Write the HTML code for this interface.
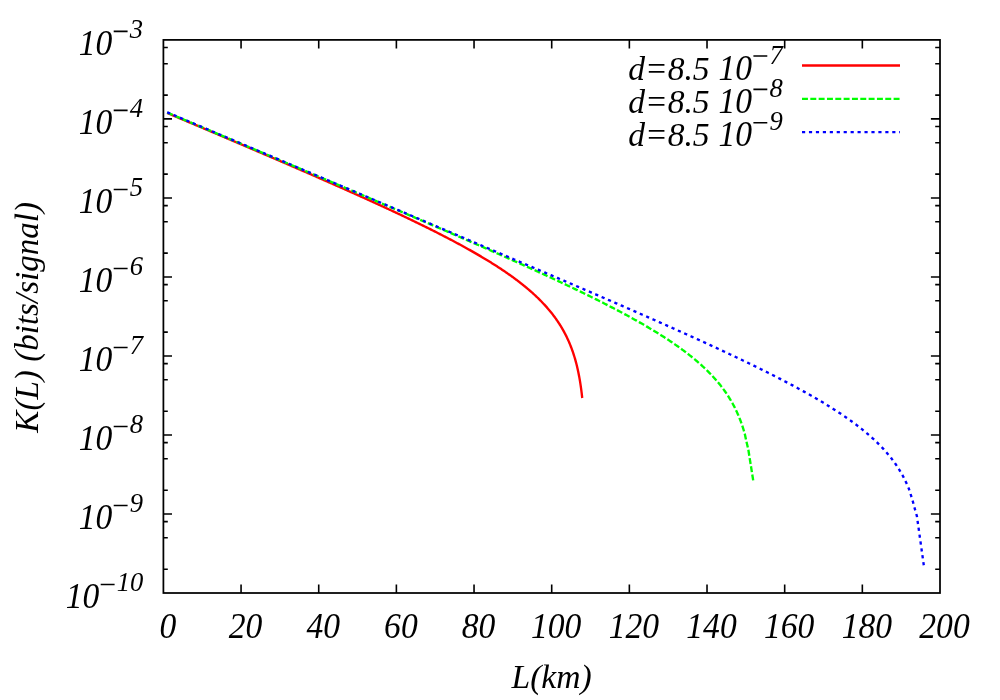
<!DOCTYPE html>
<html><head><meta charset="utf-8"><title>K(L)</title>
<style>
html,body{margin:0;padding:0;background:#fff;}
body{width:1000px;height:700px;overflow:hidden;}
svg{display:block;will-change:transform;}
text{font-family:"Liberation Serif",serif;font-style:italic;fill:#000;}
</style></head><body>
<svg width="1000" height="700" viewBox="0 0 1000 700">
<rect x="0" y="0" width="1000" height="700" fill="#fff"/>
<path d="M241.06 593.00 v-8.60 M241.06 39.90 v8.60 M318.72 593.00 v-8.60 M318.72 39.90 v8.60 M396.38 593.00 v-8.60 M396.38 39.90 v8.60 M474.04 593.00 v-8.60 M474.04 39.90 v8.60 M551.70 593.00 v-8.60 M551.70 39.90 v8.60 M629.36 593.00 v-8.60 M629.36 39.90 v8.60 M707.02 593.00 v-8.60 M707.02 39.90 v8.60 M784.68 593.00 v-8.60 M784.68 39.90 v8.60 M862.34 593.00 v-8.60 M862.34 39.90 v8.60 M163.40 47.56 h4.40 M940.00 47.56 h-4.80 M163.40 63.69 h4.40 M940.00 63.69 h-4.80 M163.40 95.13 h4.40 M940.00 95.13 h-4.80 M163.40 118.91 h8.60 M940.00 118.91 h-9.10 M163.40 126.57 h4.40 M940.00 126.57 h-4.80 M163.40 142.70 h4.40 M940.00 142.70 h-4.80 M163.40 174.14 h4.40 M940.00 174.14 h-4.80 M163.40 197.93 h8.60 M940.00 197.93 h-9.10 M163.40 205.59 h4.40 M940.00 205.59 h-4.80 M163.40 221.71 h4.40 M940.00 221.71 h-4.80 M163.40 253.16 h4.40 M940.00 253.16 h-4.80 M163.40 276.94 h8.60 M940.00 276.94 h-9.10 M163.40 284.60 h4.40 M940.00 284.60 h-4.80 M163.40 300.73 h4.40 M940.00 300.73 h-4.80 M163.40 332.17 h4.40 M940.00 332.17 h-4.80 M163.40 355.96 h8.60 M940.00 355.96 h-9.10 M163.40 363.61 h4.40 M940.00 363.61 h-4.80 M163.40 379.74 h4.40 M940.00 379.74 h-4.80 M163.40 411.19 h4.40 M940.00 411.19 h-4.80 M163.40 434.97 h8.60 M940.00 434.97 h-9.10 M163.40 442.63 h4.40 M940.00 442.63 h-4.80 M163.40 458.76 h4.40 M940.00 458.76 h-4.80 M163.40 490.20 h4.40 M940.00 490.20 h-4.80 M163.40 513.99 h8.60 M940.00 513.99 h-9.10 M163.40 521.64 h4.40 M940.00 521.64 h-4.80 M163.40 537.77 h4.40 M940.00 537.77 h-4.80 M163.40 569.21 h4.40 M940.00 569.21 h-4.80" stroke="#000" stroke-width="1.60" fill="none"/>
<rect x="163.40" y="39.90" width="776.60" height="553.10" fill="none" stroke="#000" stroke-width="1.75"/>
<text transform="translate(78.80 54.90) scale(1 1.050)" font-size="33.6">10</text><text transform="translate(129.80 38.00) scale(1 1.030)" font-size="26.6">3</text>
<text transform="translate(78.80 133.91) scale(1 1.050)" font-size="33.6">10</text><text transform="translate(129.80 117.01) scale(1 1.030)" font-size="26.6">4</text>
<text transform="translate(78.80 212.93) scale(1 1.050)" font-size="33.6">10</text><text transform="translate(129.80 196.03) scale(1 1.030)" font-size="26.6">5</text>
<text transform="translate(78.80 291.94) scale(1 1.050)" font-size="33.6">10</text><text transform="translate(129.80 275.04) scale(1 1.030)" font-size="26.6">6</text>
<text transform="translate(78.80 370.96) scale(1 1.050)" font-size="33.6">10</text><text transform="translate(129.80 354.06) scale(1 1.030)" font-size="26.6">7</text>
<text transform="translate(78.80 449.97) scale(1 1.050)" font-size="33.6">10</text><text transform="translate(129.80 433.07) scale(1 1.030)" font-size="26.6">8</text>
<text transform="translate(78.80 528.99) scale(1 1.050)" font-size="33.6">10</text><text transform="translate(129.80 512.09) scale(1 1.030)" font-size="26.6">9</text>
<text transform="translate(65.80 608.00) scale(1 1.050)" font-size="33.6">10</text><text transform="translate(116.80 591.10) scale(1 1.030)" font-size="26.6">10</text>
<text transform="translate(167.90 637.9) scale(1 1.050)" text-anchor="middle" font-size="33.6">0</text>
<text transform="translate(245.56 637.9) scale(1 1.050)" text-anchor="middle" font-size="33.6">20</text>
<text transform="translate(323.22 637.9) scale(1 1.050)" text-anchor="middle" font-size="33.6">40</text>
<text transform="translate(400.88 637.9) scale(1 1.050)" text-anchor="middle" font-size="33.6">60</text>
<text transform="translate(478.54 637.9) scale(1 1.050)" text-anchor="middle" font-size="33.6">80</text>
<text transform="translate(556.20 637.9) scale(1 1.050)" text-anchor="middle" font-size="33.6">100</text>
<text transform="translate(633.86 637.9) scale(1 1.050)" text-anchor="middle" font-size="33.6">120</text>
<text transform="translate(711.52 637.9) scale(1 1.050)" text-anchor="middle" font-size="33.6">140</text>
<text transform="translate(789.18 637.9) scale(1 1.050)" text-anchor="middle" font-size="33.6">160</text>
<text transform="translate(866.84 637.9) scale(1 1.050)" text-anchor="middle" font-size="33.6">180</text>
<text transform="translate(944.50 637.9) scale(1 1.050)" text-anchor="middle" font-size="33.6">200</text>
<text x="551.6" y="687.6" text-anchor="middle" font-size="33.6">L(km)</text>
<text transform="translate(38 317.3) rotate(-90)" text-anchor="middle" font-size="33.1">K(L) (bits/signal)</text>
<text x="628.2" y="79.50" font-size="33.6">d=8.5</text>
<text transform="translate(718.50 79.50) scale(1 1.050)" font-size="33.6">10</text><text transform="translate(769.50 63.50) scale(1 1.030)" font-size="26.6">7</text>
<text x="628.2" y="112.90" font-size="33.6">d=8.5</text>
<text transform="translate(718.50 112.90) scale(1 1.050)" font-size="33.6">10</text><text transform="translate(769.50 96.90) scale(1 1.030)" font-size="26.6">8</text>
<text x="628.2" y="146.20" font-size="33.6">d=8.5</text>
<text transform="translate(718.50 146.20) scale(1 1.050)" font-size="33.6">10</text><text transform="translate(769.50 130.20) scale(1 1.030)" font-size="26.6">9</text>
<path d="M113.70 31.40 h13.9 M113.70 110.41 h13.9 M113.70 189.43 h13.9 M113.70 268.44 h13.9 M113.70 347.46 h13.9 M113.70 426.47 h13.9 M113.70 505.49 h13.9 M100.70 584.50 h13.9 M753.40 56.00 h13.9 M753.40 89.40 h13.9 M753.40 122.70 h13.9" stroke="#000" stroke-width="1.6" fill="none"/>
<path d="M802 65.50 H900" stroke="#ff0000" stroke-width="2.30" fill="none"/>
<path d="M802 98.90 H900" stroke="#00ff00" stroke-width="2.30" fill="none" stroke-dasharray="5.9485 2.3794"/>
<path d="M802 132.20 H900" stroke="#0000ff" stroke-width="2.30" fill="none" stroke-dasharray="3.1735 3.7685"/>
<path d="M167.20 112.99 L168.12 113.37 L169.04 113.76 L169.96 114.15 L170.88 114.54 L171.81 114.93 L172.73 115.32 L173.65 115.71 L174.57 116.10 L175.49 116.49 L176.41 116.88 L177.33 117.27 L178.25 117.66 L179.17 118.05 L180.10 118.43 L181.02 118.82 L181.94 119.21 L182.86 119.60 L183.78 119.99 L184.70 120.38 L185.62 120.77 L186.54 121.16 L187.46 121.55 L188.38 121.94 L189.31 122.33 L190.23 122.72 L191.15 123.11 L192.07 123.50 L192.99 123.89 L193.91 124.28 L194.83 124.67 L195.75 125.06 L196.67 125.45 L197.59 125.84 L198.51 126.23 L199.43 126.62 L200.36 127.01 L201.28 127.40 L202.20 127.79 L203.12 128.18 L204.04 128.57 L204.96 128.96 L205.88 129.35 L206.80 129.74 L207.72 130.13 L208.64 130.53 L209.56 130.92 L210.48 131.31 L211.40 131.70 L212.32 132.09 L213.24 132.48 L214.16 132.87 L215.08 133.26 L216.01 133.65 L216.93 134.04 L217.85 134.43 L218.77 134.82 L219.69 135.22 L220.61 135.61 L221.53 136.00 L222.45 136.39 L223.37 136.78 L224.29 137.17 L225.21 137.56 L226.13 137.95 L227.05 138.35 L227.97 138.74 L228.89 139.13 L229.81 139.52 L230.73 139.91 L231.65 140.30 L232.57 140.70 L233.49 141.09 L234.41 141.48 L235.33 141.87 L236.25 142.26 L237.17 142.66 L238.09 143.05 L239.01 143.44 L239.93 143.83 L240.85 144.23 L241.77 144.62 L242.69 145.01 L243.61 145.40 L244.53 145.80 L245.45 146.19 L246.37 146.58 L247.29 146.97 L248.21 147.37 L249.13 147.76 L250.05 148.15 L250.97 148.55 L251.88 148.94 L252.80 149.33 L253.72 149.73 L254.64 150.12 L255.56 150.51 L256.48 150.91 L257.40 151.30 L258.32 151.69 L259.24 152.09 L260.16 152.48 L261.08 152.87 L262.00 153.27 L262.92 153.66 L263.84 154.06 L264.75 154.45 L265.67 154.85 L266.59 155.24 L267.51 155.63 L268.43 156.03 L269.35 156.42 L270.27 156.82 L271.19 157.21 L272.11 157.61 L273.02 158.00 L273.94 158.40 L274.86 158.79 L275.78 159.19 L276.70 159.58 L277.62 159.98 L278.54 160.38 L279.45 160.77 L280.37 161.17 L281.29 161.56 L282.21 161.96 L283.13 162.35 L284.04 162.75 L284.96 163.15 L285.88 163.54 L286.80 163.94 L287.72 164.34 L288.64 164.73 L289.55 165.13 L290.47 165.53 L291.39 165.92 L292.31 166.32 L293.22 166.72 L294.14 167.12 L295.06 167.51 L295.98 167.91 L296.89 168.31 L297.81 168.71 L298.73 169.11 L299.65 169.50 L300.56 169.90 L301.48 170.30 L302.40 170.70 L303.32 171.10 L304.23 171.50 L305.15 171.90 L306.07 172.29 L306.98 172.69 L307.90 173.09 L308.82 173.49 L309.73 173.89 L310.65 174.29 L311.57 174.69 L312.48 175.09 L313.40 175.49 L314.32 175.89 L315.23 176.29 L316.15 176.69 L317.06 177.09 L317.98 177.50 L318.90 177.90 L319.81 178.30 L320.73 178.70 L321.64 179.10 L322.56 179.50 L323.48 179.91 L324.39 180.31 L325.31 180.71 L326.22 181.11 L327.14 181.52 L328.05 181.92 L328.97 182.32 L329.88 182.72 L330.80 183.13 L331.71 183.53 L332.63 183.94 L333.54 184.34 L334.46 184.74 L335.37 185.15 L336.29 185.55 L337.20 185.96 L338.12 186.36 L339.03 186.77 L339.94 187.17 L340.86 187.58 L341.77 187.98 L342.69 188.39 L343.60 188.80 L344.51 189.20 L345.43 189.61 L346.34 190.02 L347.25 190.42 L348.17 190.83 L349.08 191.24 L349.99 191.65 L350.91 192.06 L351.82 192.46 L352.73 192.87 L353.65 193.28 L354.56 193.69 L355.47 194.10 L356.38 194.51 L357.29 194.92 L358.21 195.33 L359.12 195.74 L360.03 196.15 L360.94 196.56 L361.85 196.97 L362.76 197.39 L363.68 197.80 L364.59 198.21 L365.50 198.62 L366.41 199.04 L367.32 199.45 L368.23 199.86 L369.14 200.28 L370.05 200.69 L370.96 201.10 L371.87 201.52 L372.78 201.93 L373.69 202.35 L374.60 202.76 L375.51 203.18 L376.42 203.60 L377.33 204.01 L378.24 204.43 L379.15 204.85 L380.06 205.26 L380.96 205.68 L381.87 206.10 L382.78 206.52 L383.69 206.94 L384.60 207.36 L385.50 207.78 L386.41 208.20 L387.32 208.62 L388.23 209.04 L389.13 209.46 L390.04 209.88 L390.95 210.31 L391.85 210.73 L392.76 211.15 L393.67 211.58 L394.57 212.00 L395.48 212.42 L396.38 212.85 L397.29 213.27 L398.19 213.70 L399.10 214.13 L400.00 214.55 L400.91 214.98 L401.81 215.41 L402.71 215.83 L403.62 216.26 L404.52 216.69 L405.42 217.12 L406.33 217.55 L407.23 217.98 L408.13 218.41 L409.03 218.85 L409.94 219.28 L410.84 219.71 L411.74 220.14 L412.64 220.58 L413.54 221.01 L414.44 221.45 L415.34 221.88 L416.24 222.32 L417.14 222.75 L418.04 223.19 L418.94 223.63 L419.84 224.07 L420.74 224.51 L421.64 224.95 L422.54 225.39 L423.43 225.83 L424.33 226.27 L425.23 226.71 L426.12 227.16 L427.02 227.60 L427.92 228.04 L428.81 228.49 L429.71 228.93 L430.60 229.38 L431.50 229.83 L432.39 230.28 L433.29 230.72 L434.18 231.17 L435.07 231.62 L435.97 232.07 L436.86 232.53 L437.75 232.98 L438.64 233.43 L439.53 233.89 L440.42 234.34 L441.31 234.80 L442.20 235.25 L443.09 235.71 L443.98 236.17 L444.87 236.63 L445.76 237.09 L446.65 237.55 L447.53 238.01 L448.42 238.47 L449.31 238.94 L450.19 239.40 L451.08 239.87 L451.96 240.33 L452.85 240.80 L453.73 241.27 L454.61 241.74 L455.50 242.21 L456.38 242.68 L457.26 243.16 L458.14 243.63 L459.02 244.11 L459.90 244.58 L460.78 245.06 L461.66 245.54 L462.54 246.02 L463.41 246.50 L464.29 246.98 L465.17 247.46 L466.04 247.95 L466.92 248.43 L467.79 248.92 L468.66 249.41 L469.54 249.90 L470.41 250.39 L471.28 250.88 L472.15 251.37 L473.02 251.87 L473.89 252.36 L474.76 252.86 L475.62 253.36 L476.49 253.86 L477.36 254.36 L478.22 254.87 L479.08 255.37 L479.95 255.88 L480.81 256.38 L481.67 256.89 L482.53 257.40 L483.39 257.92 L484.25 258.43 L485.10 258.95 L485.96 259.47 L486.82 259.98 L487.67 260.51 L488.52 261.03 L489.38 261.55 L490.23 262.08 L491.08 262.61 L491.93 263.14 L492.77 263.67 L493.62 264.20 L494.46 264.74 L495.31 265.28 L496.15 265.82 L496.99 266.36 L497.83 266.90 L498.67 267.45 L499.51 268.00 L500.34 268.55 L501.18 269.10 L502.01 269.66 L502.84 270.21 L503.67 270.77 L504.50 271.33 L505.33 271.90 L506.15 272.46 L506.98 273.03 L507.80 273.60 L508.62 274.18 L509.44 274.75 L510.26 275.33 L511.07 275.91 L511.88 276.50 L512.70 277.08 L513.51 277.67 L514.31 278.27 L515.12 278.86 L515.92 279.46 L516.72 280.06 L517.52 280.66 L518.32 281.27 L519.11 281.88 L519.91 282.49 L520.70 283.11 L521.48 283.72 L522.27 284.35 L523.05 284.97 L523.83 285.60 L524.61 286.23 L525.38 286.86 L526.16 287.50 L526.93 288.14 L527.69 288.79 L528.46 289.44 L529.22 290.09 L529.98 290.74 L530.73 291.40 L531.48 292.07 L532.23 292.73 L532.98 293.40 L533.72 294.08 L534.46 294.75 L535.19 295.43 L535.92 296.12 L536.65 296.81 L537.38 297.50 L538.10 298.20 L538.81 298.90 L539.53 299.61 L540.23 300.32 L540.94 301.03 L541.64 301.75 L542.33 302.47 L543.03 303.20 L543.71 303.93 L544.40 304.66 L545.07 305.40 L545.75 306.15 L546.42 306.90 L547.08 307.65 L547.74 308.41 L548.39 309.17 L549.04 309.93 L549.69 310.70 L550.32 311.48 L550.96 312.26 L551.58 313.04 L552.21 313.83 L552.82 314.63 L553.43 315.42 L554.04 316.23 L554.64 317.03 L555.23 317.85 L555.81 318.66 L556.39 319.48 L556.97 320.31 L557.54 321.14 L558.10 321.97 L558.65 322.81 L559.20 323.65 L559.74 324.50 L560.28 325.35 L560.81 326.21 L561.33 327.07 L561.84 327.94 L562.35 328.80 L562.85 329.68 L563.35 330.55 L563.84 331.44 L564.32 332.32 L564.79 333.21 L565.26 334.10 L565.71 335.00 L566.17 335.90 L566.61 336.81 L567.05 337.71 L567.48 338.63 L567.90 339.54 L568.32 340.46 L568.73 341.38 L569.13 342.31 L569.52 343.23 L569.91 344.17 L570.29 345.10 L570.67 346.04 L571.03 346.98 L571.39 347.92 L571.75 348.87 L572.09 349.82 L572.43 350.77 L572.76 351.72 L573.09 352.68 L573.41 353.63 L573.72 354.60 L574.03 355.56 L574.33 356.52 L574.62 357.49 L574.91 358.46 L575.19 359.43 L575.46 360.40 L575.73 361.38 L576.00 362.35 L576.25 363.33 L576.50 364.31 L576.75 365.29 L576.99 366.27 L577.22 367.26 L577.45 368.24 L577.68 369.23 L577.89 370.22 L578.11 371.20 L578.32 372.19 L578.52 373.19 L578.72 374.18 L578.91 375.17 L579.10 376.16 L579.28 377.16 L579.46 378.16 L579.64 379.15 L579.81 380.15 L579.98 381.15 L580.14 382.15 L580.30 383.15 L580.45 384.15 L580.60 385.15 L580.75 386.15 L580.89 387.15 L581.03 388.15 L581.17 389.16 L581.30 390.16 L581.43 391.16 L581.55 392.17 L581.68 393.17 L581.79 394.18 L581.91 395.18 L582.02 396.19 L582.13 397.19 L582.22 398.00" stroke="#ff0000" stroke-width="2.35" fill="none" stroke-linejoin="round"/>
<path d="M167.20 112.58 L168.12 112.97 L169.04 113.36 L169.96 113.75 L170.89 114.14 L171.81 114.52 L172.73 114.91 L173.65 115.30 L174.57 115.69 L175.49 116.08 L176.41 116.47 L177.33 116.86 L178.26 117.24 L179.18 117.63 L180.10 118.02 L181.02 118.41 L181.94 118.80 L182.86 119.19 L183.78 119.58 L184.71 119.97 L185.63 120.35 L186.55 120.74 L187.47 121.13 L188.39 121.52 L189.31 121.91 L190.23 122.30 L191.15 122.69 L192.08 123.08 L193.00 123.47 L193.92 123.85 L194.84 124.24 L195.76 124.63 L196.68 125.02 L197.60 125.41 L198.53 125.80 L199.45 126.19 L200.37 126.58 L201.29 126.96 L202.21 127.35 L203.13 127.74 L204.05 128.13 L204.97 128.52 L205.90 128.91 L206.82 129.30 L207.74 129.69 L208.66 130.08 L209.58 130.46 L210.50 130.85 L211.42 131.24 L212.34 131.63 L213.27 132.02 L214.19 132.41 L215.11 132.80 L216.03 133.19 L216.95 133.58 L217.87 133.97 L218.79 134.35 L219.71 134.74 L220.64 135.13 L221.56 135.52 L222.48 135.91 L223.40 136.30 L224.32 136.69 L225.24 137.08 L226.16 137.47 L227.08 137.86 L228.01 138.24 L228.93 138.63 L229.85 139.02 L230.77 139.41 L231.69 139.80 L232.61 140.19 L233.53 140.58 L234.45 140.97 L235.38 141.36 L236.30 141.75 L237.22 142.14 L238.14 142.52 L239.06 142.91 L239.98 143.30 L240.90 143.69 L241.82 144.08 L242.75 144.47 L243.67 144.86 L244.59 145.25 L245.51 145.64 L246.43 146.03 L247.35 146.42 L248.27 146.81 L249.19 147.19 L250.11 147.58 L251.04 147.97 L251.96 148.36 L252.88 148.75 L253.80 149.14 L254.72 149.53 L255.64 149.92 L256.56 150.31 L257.48 150.70 L258.40 151.09 L259.33 151.48 L260.25 151.87 L261.17 152.26 L262.09 152.64 L263.01 153.03 L263.93 153.42 L264.85 153.81 L265.77 154.20 L266.69 154.59 L267.62 154.98 L268.54 155.37 L269.46 155.76 L270.38 156.15 L271.30 156.54 L272.22 156.93 L273.14 157.32 L274.06 157.71 L274.98 158.10 L275.90 158.49 L276.83 158.88 L277.75 159.27 L278.67 159.66 L279.59 160.04 L280.51 160.43 L281.43 160.82 L282.35 161.21 L283.27 161.60 L284.19 161.99 L285.11 162.38 L286.04 162.77 L286.96 163.16 L287.88 163.55 L288.80 163.94 L289.72 164.33 L290.64 164.72 L291.56 165.11 L292.48 165.50 L293.40 165.89 L294.32 166.28 L295.24 166.67 L296.17 167.06 L297.09 167.45 L298.01 167.84 L298.93 168.23 L299.85 168.62 L300.77 169.01 L301.69 169.40 L302.61 169.79 L303.53 170.18 L304.45 170.57 L305.37 170.96 L306.29 171.35 L307.22 171.74 L308.14 172.13 L309.06 172.52 L309.98 172.91 L310.90 173.30 L311.82 173.69 L312.74 174.08 L313.66 174.47 L314.58 174.86 L315.50 175.25 L316.42 175.64 L317.34 176.03 L318.26 176.42 L319.18 176.81 L320.11 177.20 L321.03 177.59 L321.95 177.98 L322.87 178.37 L323.79 178.76 L324.71 179.15 L325.63 179.55 L326.55 179.94 L327.47 180.33 L328.39 180.72 L329.31 181.11 L330.23 181.50 L331.15 181.89 L332.07 182.28 L332.99 182.67 L333.91 183.06 L334.83 183.45 L335.76 183.84 L336.68 184.23 L337.60 184.62 L338.52 185.01 L339.44 185.41 L340.36 185.80 L341.28 186.19 L342.20 186.58 L343.12 186.97 L344.04 187.36 L344.96 187.75 L345.88 188.14 L346.80 188.53 L347.72 188.92 L348.64 189.32 L349.56 189.71 L350.48 190.10 L351.40 190.49 L352.32 190.88 L353.24 191.27 L354.16 191.66 L355.08 192.05 L356.00 192.45 L356.92 192.84 L357.84 193.23 L358.76 193.62 L359.68 194.01 L360.60 194.40 L361.52 194.80 L362.44 195.19 L363.36 195.58 L364.28 195.97 L365.20 196.36 L366.12 196.75 L367.04 197.15 L367.96 197.54 L368.88 197.93 L369.80 198.32 L370.72 198.71 L371.64 199.11 L372.56 199.50 L373.48 199.89 L374.40 200.28 L375.32 200.67 L376.24 201.07 L377.16 201.46 L378.08 201.85 L379.00 202.24 L379.92 202.64 L380.84 203.03 L381.76 203.42 L382.68 203.81 L383.60 204.21 L384.52 204.60 L385.44 204.99 L386.36 205.38 L387.28 205.78 L388.20 206.17 L389.12 206.56 L390.04 206.95 L390.96 207.35 L391.88 207.74 L392.80 208.13 L393.72 208.53 L394.64 208.92 L395.56 209.31 L396.48 209.71 L397.40 210.10 L398.32 210.49 L399.23 210.89 L400.15 211.28 L401.07 211.67 L401.99 212.07 L402.91 212.46 L403.83 212.85 L404.75 213.25 L405.67 213.64 L406.59 214.04 L407.51 214.43 L408.43 214.82 L409.35 215.22 L410.27 215.61 L411.18 216.01 L412.10 216.40 L413.02 216.80 L413.94 217.19 L414.86 217.58 L415.78 217.98 L416.70 218.37 L417.62 218.77 L418.54 219.16 L419.45 219.56 L420.37 219.95 L421.29 220.35 L422.21 220.74 L423.13 221.14 L424.05 221.53 L424.97 221.93 L425.88 222.32 L426.80 222.72 L427.72 223.11 L428.64 223.51 L429.56 223.91 L430.48 224.30 L431.40 224.70 L432.31 225.09 L433.23 225.49 L434.15 225.89 L435.07 226.28 L435.99 226.68 L436.90 227.07 L437.82 227.47 L438.74 227.87 L439.66 228.26 L440.58 228.66 L441.49 229.06 L442.41 229.45 L443.33 229.85 L444.25 230.25 L445.17 230.65 L446.08 231.04 L447.00 231.44 L447.92 231.84 L448.84 232.24 L449.75 232.63 L450.67 233.03 L451.59 233.43 L452.51 233.83 L453.42 234.22 L454.34 234.62 L455.26 235.02 L456.18 235.42 L457.09 235.82 L458.01 236.22 L458.93 236.62 L459.84 237.01 L460.76 237.41 L461.68 237.81 L462.60 238.21 L463.51 238.61 L464.43 239.01 L465.35 239.41 L466.26 239.81 L467.18 240.21 L468.10 240.61 L469.01 241.01 L469.93 241.41 L470.84 241.81 L471.76 242.21 L472.68 242.61 L473.59 243.01 L474.51 243.41 L475.43 243.81 L476.34 244.22 L477.26 244.62 L478.17 245.02 L479.09 245.42 L480.01 245.82 L480.92 246.22 L481.84 246.63 L482.75 247.03 L483.67 247.43 L484.58 247.83 L485.50 248.24 L486.41 248.64 L487.33 249.04 L488.24 249.44 L489.16 249.85 L490.07 250.25 L490.99 250.66 L491.90 251.06 L492.82 251.46 L493.73 251.87 L494.65 252.27 L495.56 252.68 L496.48 253.08 L497.39 253.49 L498.31 253.89 L499.22 254.30 L500.13 254.70 L501.05 255.11 L501.96 255.51 L502.88 255.92 L503.79 256.33 L504.70 256.73 L505.62 257.14 L506.53 257.55 L507.44 257.95 L508.36 258.36 L509.27 258.77 L510.18 259.18 L511.10 259.58 L512.01 259.99 L512.92 260.40 L513.84 260.81 L514.75 261.22 L515.66 261.63 L516.57 262.04 L517.49 262.45 L518.40 262.86 L519.31 263.27 L520.22 263.68 L521.13 264.09 L522.05 264.50 L522.96 264.91 L523.87 265.32 L524.78 265.73 L525.69 266.14 L526.60 266.56 L527.51 266.97 L528.42 267.38 L529.34 267.79 L530.25 268.21 L531.16 268.62 L532.07 269.04 L532.98 269.45 L533.89 269.86 L534.80 270.28 L535.71 270.69 L536.62 271.11 L537.53 271.52 L538.44 271.94 L539.35 272.36 L540.25 272.77 L541.16 273.19 L542.07 273.61 L542.98 274.03 L543.89 274.44 L544.80 274.86 L545.71 275.28 L546.61 275.70 L547.52 276.12 L548.43 276.54 L549.34 276.96 L550.25 277.38 L551.15 277.80 L552.06 278.22 L552.97 278.64 L553.87 279.06 L554.78 279.49 L555.69 279.91 L556.59 280.33 L557.50 280.75 L558.40 281.18 L559.31 281.60 L560.22 282.03 L561.12 282.45 L562.03 282.88 L562.93 283.30 L563.84 283.73 L564.74 284.16 L565.64 284.58 L566.55 285.01 L567.45 285.44 L568.36 285.87 L569.26 286.30 L570.16 286.73 L571.07 287.16 L571.97 287.59 L572.87 288.02 L573.77 288.45 L574.67 288.88 L575.58 289.32 L576.48 289.75 L577.38 290.18 L578.28 290.62 L579.18 291.05 L580.08 291.49 L580.98 291.92 L581.88 292.36 L582.78 292.80 L583.68 293.23 L584.58 293.67 L585.48 294.11 L586.38 294.55 L587.27 294.99 L588.17 295.43 L589.07 295.87 L589.97 296.31 L590.86 296.76 L591.76 297.20 L592.66 297.64 L593.55 298.09 L594.45 298.53 L595.34 298.98 L596.24 299.42 L597.13 299.87 L598.03 300.32 L598.92 300.77 L599.82 301.22 L600.71 301.67 L601.60 302.12 L602.50 302.57 L603.39 303.02 L604.28 303.47 L605.17 303.93 L606.06 304.38 L606.95 304.84 L607.84 305.29 L608.73 305.75 L609.62 306.21 L610.51 306.67 L611.40 307.13 L612.29 307.59 L613.17 308.05 L614.06 308.51 L614.95 308.97 L615.83 309.44 L616.72 309.90 L617.60 310.37 L618.49 310.84 L619.37 311.30 L620.26 311.77 L621.14 312.24 L622.02 312.71 L622.90 313.19 L623.79 313.66 L624.67 314.13 L625.55 314.61 L626.43 315.08 L627.31 315.56 L628.19 316.04 L629.06 316.52 L629.94 317.00 L630.82 317.48 L631.69 317.96 L632.57 318.45 L633.44 318.93 L634.32 319.42 L635.19 319.91 L636.06 320.39 L636.94 320.88 L637.81 321.38 L638.68 321.87 L639.55 322.36 L640.42 322.86 L641.29 323.35 L642.15 323.85 L643.02 324.35 L643.89 324.85 L644.75 325.36 L645.62 325.86 L646.48 326.36 L647.34 326.87 L648.20 327.38 L649.07 327.89 L649.93 328.40 L650.78 328.91 L651.64 329.43 L652.50 329.94 L653.36 330.46 L654.21 330.98 L655.07 331.50 L655.92 332.03 L656.77 332.55 L657.62 333.08 L658.47 333.60 L659.32 334.13 L660.17 334.67 L661.01 335.20 L661.86 335.74 L662.70 336.27 L663.55 336.81 L664.39 337.35 L665.23 337.90 L666.07 338.44 L666.90 338.99 L667.74 339.54 L668.58 340.09 L669.41 340.65 L670.24 341.20 L671.07 341.76 L671.90 342.32 L672.73 342.89 L673.56 343.45 L674.38 344.02 L675.20 344.59 L676.02 345.16 L676.84 345.74 L677.66 346.31 L678.48 346.89 L679.29 347.48 L680.10 348.06 L680.91 348.65 L681.72 349.24 L682.53 349.83 L683.33 350.43 L684.14 351.03 L684.94 351.63 L685.74 352.23 L686.53 352.84 L687.33 353.45 L688.12 354.06 L688.91 354.68 L689.70 355.30 L690.48 355.92 L691.26 356.54 L692.04 357.17 L692.82 357.80 L693.60 358.44 L694.37 359.08 L695.14 359.72 L695.90 360.36 L696.67 361.01 L697.43 361.66 L698.19 362.32 L698.94 362.98 L699.69 363.64 L700.44 364.30 L701.19 364.97 L701.93 365.65 L702.67 366.32 L703.41 367.00 L704.14 367.69 L704.87 368.38 L705.59 369.07 L706.31 369.77 L707.03 370.47 L707.74 371.17 L708.45 371.88 L709.16 372.59 L709.86 373.31 L710.56 374.03 L711.25 374.75 L711.94 375.48 L712.63 376.21 L713.31 376.95 L713.98 377.69 L714.65 378.44 L715.32 379.19 L715.98 379.94 L716.64 380.70 L717.29 381.47 L717.94 382.23 L718.58 383.01 L719.22 383.78 L719.85 384.56 L720.47 385.35 L721.09 386.14 L721.71 386.94 L722.32 387.73 L722.92 388.54 L723.52 389.35 L724.11 390.16 L724.69 390.98 L725.27 391.80 L725.85 392.62 L726.41 393.45 L726.97 394.29 L727.53 395.13 L728.08 395.97 L728.62 396.82 L729.15 397.67 L729.68 398.53 L730.20 399.39 L730.72 400.25 L731.23 401.12 L731.73 401.99 L732.23 402.87 L732.71 403.75 L733.19 404.63 L733.67 405.52 L734.14 406.41 L734.60 407.31 L735.05 408.21 L735.50 409.11 L735.94 410.02 L736.37 410.93 L736.79 411.84 L737.21 412.76 L737.62 413.68 L738.03 414.61 L738.43 415.53 L738.82 416.46 L739.20 417.40 L739.58 418.33 L739.95 419.27 L740.31 420.21 L740.67 421.16 L741.02 422.10 L741.36 423.05 L741.70 424.00 L742.03 424.96 L742.35 425.92 L742.67 426.87 L742.98 427.84 L743.28 428.80 L743.58 429.76 L743.87 430.73 L744.16 431.70 L744.44 432.67 L744.71 433.64 L744.81 434.00 L746.10 440.00 L748.40 450.00 L753.20 480.40" stroke="#00ff00" stroke-width="2.35" fill="none" stroke-linejoin="round" stroke-dasharray="5.9485 2.3794"/>
<path d="M167.20 112.27 L168.12 112.66 L169.04 113.05 L169.96 113.44 L170.88 113.83 L171.80 114.22 L172.73 114.61 L173.65 115.00 L174.57 115.39 L175.49 115.78 L176.41 116.17 L177.33 116.56 L178.25 116.95 L179.17 117.34 L180.09 117.73 L181.01 118.12 L181.93 118.51 L182.86 118.90 L183.78 119.29 L184.70 119.68 L185.62 120.07 L186.54 120.46 L187.46 120.85 L188.38 121.24 L189.30 121.63 L190.22 122.02 L191.14 122.41 L192.06 122.80 L192.99 123.19 L193.91 123.58 L194.83 123.97 L195.75 124.36 L196.67 124.75 L197.59 125.14 L198.51 125.52 L199.43 125.91 L200.35 126.30 L201.27 126.69 L202.19 127.08 L203.12 127.47 L204.04 127.86 L204.96 128.25 L205.88 128.64 L206.80 129.03 L207.72 129.42 L208.64 129.81 L209.56 130.20 L210.48 130.59 L211.40 130.98 L212.32 131.37 L213.24 131.76 L214.17 132.15 L215.09 132.54 L216.01 132.93 L216.93 133.32 L217.85 133.71 L218.77 134.10 L219.69 134.49 L220.61 134.88 L221.53 135.27 L222.45 135.66 L223.37 136.05 L224.30 136.44 L225.22 136.83 L226.14 137.22 L227.06 137.61 L227.98 138.00 L228.90 138.39 L229.82 138.78 L230.74 139.17 L231.66 139.56 L232.58 139.95 L233.50 140.34 L234.43 140.73 L235.35 141.12 L236.27 141.51 L237.19 141.90 L238.11 142.29 L239.03 142.68 L239.95 143.07 L240.87 143.46 L241.79 143.85 L242.71 144.24 L243.63 144.63 L244.55 145.02 L245.48 145.41 L246.40 145.80 L247.32 146.19 L248.24 146.58 L249.16 146.97 L250.08 147.36 L251.00 147.75 L251.92 148.14 L252.84 148.53 L253.76 148.92 L254.68 149.31 L255.61 149.69 L256.53 150.08 L257.45 150.47 L258.37 150.86 L259.29 151.25 L260.21 151.64 L261.13 152.03 L262.05 152.42 L262.97 152.81 L263.89 153.20 L264.81 153.59 L265.73 153.98 L266.66 154.37 L267.58 154.76 L268.50 155.15 L269.42 155.54 L270.34 155.93 L271.26 156.32 L272.18 156.71 L273.10 157.10 L274.02 157.49 L274.94 157.88 L275.86 158.27 L276.79 158.66 L277.71 159.05 L278.63 159.44 L279.55 159.83 L280.47 160.22 L281.39 160.61 L282.31 161.00 L283.23 161.39 L284.15 161.78 L285.07 162.17 L285.99 162.56 L286.91 162.95 L287.84 163.34 L288.76 163.73 L289.68 164.12 L290.60 164.51 L291.52 164.90 L292.44 165.29 L293.36 165.68 L294.28 166.07 L295.20 166.46 L296.12 166.85 L297.04 167.24 L297.96 167.63 L298.89 168.02 L299.81 168.41 L300.73 168.80 L301.65 169.19 L302.57 169.58 L303.49 169.97 L304.41 170.36 L305.33 170.75 L306.25 171.14 L307.17 171.53 L308.09 171.92 L309.01 172.31 L309.94 172.70 L310.86 173.09 L311.78 173.48 L312.70 173.87 L313.62 174.26 L314.54 174.65 L315.46 175.04 L316.38 175.43 L317.30 175.82 L318.22 176.21 L319.14 176.60 L320.06 176.99 L320.98 177.38 L321.91 177.77 L322.83 178.16 L323.75 178.55 L324.67 178.94 L325.59 179.33 L326.51 179.72 L327.43 180.11 L328.35 180.50 L329.27 180.89 L330.19 181.28 L331.11 181.67 L332.03 182.06 L332.96 182.45 L333.88 182.84 L334.80 183.23 L335.72 183.62 L336.64 184.01 L337.56 184.40 L338.48 184.79 L339.40 185.18 L340.32 185.57 L341.24 185.96 L342.16 186.35 L343.08 186.74 L344.00 187.13 L344.93 187.52 L345.85 187.91 L346.77 188.30 L347.69 188.69 L348.61 189.08 L349.53 189.47 L350.45 189.86 L351.37 190.25 L352.29 190.64 L353.21 191.03 L354.13 191.42 L355.05 191.81 L355.97 192.20 L356.89 192.60 L357.82 192.99 L358.74 193.38 L359.66 193.77 L360.58 194.16 L361.50 194.55 L362.42 194.94 L363.34 195.33 L364.26 195.72 L365.18 196.11 L366.10 196.50 L367.02 196.89 L367.94 197.28 L368.86 197.67 L369.79 198.06 L370.71 198.45 L371.63 198.84 L372.55 199.23 L373.47 199.62 L374.39 200.01 L375.31 200.40 L376.23 200.79 L377.15 201.18 L378.07 201.57 L378.99 201.96 L379.91 202.35 L380.83 202.74 L381.75 203.13 L382.67 203.52 L383.60 203.91 L384.52 204.30 L385.44 204.69 L386.36 205.08 L387.28 205.47 L388.20 205.86 L389.12 206.25 L390.04 206.65 L390.96 207.04 L391.88 207.43 L392.80 207.82 L393.72 208.21 L394.64 208.60 L395.56 208.99 L396.48 209.38 L397.41 209.77 L398.33 210.16 L399.25 210.55 L400.17 210.94 L401.09 211.33 L402.01 211.72 L402.93 212.11 L403.85 212.50 L404.77 212.89 L405.69 213.28 L406.61 213.67 L407.53 214.06 L408.45 214.45 L409.37 214.85 L410.29 215.24 L411.21 215.63 L412.13 216.02 L413.06 216.41 L413.98 216.80 L414.90 217.19 L415.82 217.58 L416.74 217.97 L417.66 218.36 L418.58 218.75 L419.50 219.14 L420.42 219.53 L421.34 219.92 L422.26 220.31 L423.18 220.70 L424.10 221.10 L425.02 221.49 L425.94 221.88 L426.86 222.27 L427.78 222.66 L428.70 223.05 L429.62 223.44 L430.55 223.83 L431.47 224.22 L432.39 224.61 L433.31 225.00 L434.23 225.39 L435.15 225.78 L436.07 226.18 L436.99 226.57 L437.91 226.96 L438.83 227.35 L439.75 227.74 L440.67 228.13 L441.59 228.52 L442.51 228.91 L443.43 229.30 L444.35 229.69 L445.27 230.08 L446.19 230.48 L447.11 230.87 L448.03 231.26 L448.95 231.65 L449.87 232.04 L450.79 232.43 L451.72 232.82 L452.64 233.21 L453.56 233.60 L454.48 234.00 L455.40 234.39 L456.32 234.78 L457.24 235.17 L458.16 235.56 L459.08 235.95 L460.00 236.34 L460.92 236.73 L461.84 237.12 L462.76 237.52 L463.68 237.91 L464.60 238.30 L465.52 238.69 L466.44 239.08 L467.36 239.47 L468.28 239.86 L469.20 240.25 L470.12 240.65 L471.04 241.04 L471.96 241.43 L472.88 241.82 L473.80 242.21 L474.72 242.60 L475.64 242.99 L476.56 243.39 L477.48 243.78 L478.40 244.17 L479.32 244.56 L480.24 244.95 L481.16 245.34 L482.08 245.74 L483.00 246.13 L483.92 246.52 L484.84 246.91 L485.76 247.30 L486.68 247.69 L487.60 248.09 L488.52 248.48 L489.44 248.87 L490.36 249.26 L491.28 249.65 L492.20 250.05 L493.12 250.44 L494.04 250.83 L494.96 251.22 L495.88 251.61 L496.80 252.00 L497.72 252.40 L498.64 252.79 L499.56 253.18 L500.48 253.57 L501.40 253.97 L502.32 254.36 L503.24 254.75 L504.16 255.14 L505.08 255.53 L506.00 255.93 L506.92 256.32 L507.84 256.71 L508.76 257.10 L509.68 257.50 L510.60 257.89 L511.52 258.28 L512.44 258.67 L513.36 259.06 L514.28 259.46 L515.20 259.85 L516.12 260.24 L517.04 260.63 L517.96 261.03 L518.88 261.42 L519.80 261.81 L520.72 262.21 L521.64 262.60 L522.56 262.99 L523.48 263.38 L524.40 263.78 L525.32 264.17 L526.24 264.56 L527.16 264.96 L528.08 265.35 L529.00 265.74 L529.92 266.13 L530.84 266.53 L531.75 266.92 L532.67 267.31 L533.59 267.71 L534.51 268.10 L535.43 268.49 L536.35 268.89 L537.27 269.28 L538.19 269.67 L539.11 270.07 L540.03 270.46 L540.95 270.85 L541.87 271.25 L542.79 271.64 L543.71 272.03 L544.63 272.43 L545.55 272.82 L546.46 273.22 L547.38 273.61 L548.30 274.00 L549.22 274.40 L550.14 274.79 L551.06 275.18 L551.98 275.58 L552.90 275.97 L553.82 276.37 L554.74 276.76 L555.66 277.15 L556.58 277.55 L557.49 277.94 L558.41 278.34 L559.33 278.73 L560.25 279.13 L561.17 279.52 L562.09 279.92 L563.01 280.31 L563.93 280.70 L564.85 281.10 L565.76 281.49 L566.68 281.89 L567.60 282.28 L568.52 282.68 L569.44 283.07 L570.36 283.47 L571.28 283.86 L572.20 284.26 L573.11 284.65 L574.03 285.05 L574.95 285.44 L575.87 285.84 L576.79 286.24 L577.71 286.63 L578.63 287.03 L579.54 287.42 L580.46 287.82 L581.38 288.21 L582.30 288.61 L583.22 289.00 L584.14 289.40 L585.05 289.80 L585.97 290.19 L586.89 290.59 L587.81 290.98 L588.73 291.38 L589.64 291.78 L590.56 292.17 L591.48 292.57 L592.40 292.97 L593.32 293.36 L594.23 293.76 L595.15 294.16 L596.07 294.55 L596.99 294.95 L597.91 295.35 L598.82 295.74 L599.74 296.14 L600.66 296.54 L601.58 296.94 L602.49 297.33 L603.41 297.73 L604.33 298.13 L605.25 298.53 L606.17 298.92 L607.08 299.32 L608.00 299.72 L608.92 300.12 L609.83 300.52 L610.75 300.91 L611.67 301.31 L612.59 301.71 L613.50 302.11 L614.42 302.51 L615.34 302.91 L616.26 303.31 L617.17 303.70 L618.09 304.10 L619.01 304.50 L619.92 304.90 L620.84 305.30 L621.76 305.70 L622.67 306.10 L623.59 306.50 L624.51 306.90 L625.42 307.30 L626.34 307.70 L627.26 308.10 L628.17 308.50 L629.09 308.90 L630.01 309.30 L630.92 309.70 L631.84 310.10 L632.76 310.50 L633.67 310.90 L634.59 311.30 L635.50 311.70 L636.42 312.11 L637.34 312.51 L638.25 312.91 L639.17 313.31 L640.08 313.71 L641.00 314.11 L641.91 314.52 L642.83 314.92 L643.75 315.32 L644.66 315.72 L645.58 316.12 L646.49 316.53 L647.41 316.93 L648.32 317.33 L649.24 317.74 L650.15 318.14 L651.07 318.54 L651.98 318.95 L652.90 319.35 L653.81 319.75 L654.73 320.16 L655.64 320.56 L656.56 320.97 L657.47 321.37 L658.39 321.77 L659.30 322.18 L660.22 322.58 L661.13 322.99 L662.04 323.39 L662.96 323.80 L663.87 324.21 L664.79 324.61 L665.70 325.02 L666.61 325.42 L667.53 325.83 L668.44 326.24 L669.35 326.64 L670.27 327.05 L671.18 327.46 L672.10 327.86 L673.01 328.27 L673.92 328.68 L674.83 329.09 L675.75 329.50 L676.66 329.90 L677.57 330.31 L678.49 330.72 L679.40 331.13 L680.31 331.54 L681.22 331.95 L682.14 332.36 L683.05 332.77 L683.96 333.18 L684.87 333.59 L685.78 334.00 L686.70 334.41 L687.61 334.82 L688.52 335.23 L689.43 335.64 L690.34 336.05 L691.25 336.47 L692.17 336.88 L693.08 337.29 L693.99 337.70 L694.90 338.12 L695.81 338.53 L696.72 338.94 L697.63 339.36 L698.54 339.77 L699.45 340.18 L700.36 340.60 L701.27 341.01 L702.18 341.43 L703.09 341.84 L704.00 342.26 L704.91 342.67 L705.82 343.09 L706.73 343.51 L707.64 343.92 L708.55 344.34 L709.46 344.76 L710.36 345.18 L711.27 345.59 L712.18 346.01 L713.09 346.43 L714.00 346.85 L714.91 347.27 L715.81 347.69 L716.72 348.11 L717.63 348.53 L718.54 348.95 L719.44 349.37 L720.35 349.79 L721.26 350.21 L722.16 350.64 L723.07 351.06 L723.98 351.48 L724.88 351.90 L725.79 352.33 L726.69 352.75 L727.60 353.18 L728.51 353.60 L729.41 354.03 L730.32 354.45 L731.22 354.88 L732.12 355.30 L733.03 355.73 L733.93 356.16 L734.84 356.59 L735.74 357.01 L736.65 357.44 L737.55 357.87 L738.45 358.30 L739.35 358.73 L740.26 359.16 L741.16 359.59 L742.06 360.02 L742.96 360.45 L743.87 360.89 L744.77 361.32 L745.67 361.75 L746.57 362.19 L747.47 362.62 L748.37 363.06 L749.27 363.49 L750.17 363.93 L751.07 364.36 L751.97 364.80 L752.87 365.24 L753.77 365.68 L754.67 366.11 L755.57 366.55 L756.47 366.99 L757.37 367.43 L758.26 367.87 L759.16 368.32 L760.06 368.76 L760.95 369.20 L761.85 369.64 L762.75 370.09 L763.64 370.53 L764.54 370.98 L765.43 371.42 L766.33 371.87 L767.22 372.32 L768.12 372.77 L769.01 373.21 L769.91 373.66 L770.80 374.11 L771.69 374.56 L772.58 375.02 L773.48 375.47 L774.37 375.92 L775.26 376.37 L776.15 376.83 L777.04 377.28 L777.93 377.74 L778.82 378.20 L779.71 378.65 L780.60 379.11 L781.49 379.57 L782.38 380.03 L783.26 380.49 L784.15 380.96 L785.04 381.42 L785.92 381.88 L786.81 382.35 L787.69 382.81 L788.58 383.28 L789.46 383.75 L790.35 384.21 L791.23 384.68 L792.11 385.15 L793.00 385.62 L793.88 386.10 L794.76 386.57 L795.64 387.04 L796.52 387.52 L797.40 388.00 L798.28 388.47 L799.16 388.95 L800.04 389.43 L800.91 389.91 L801.79 390.39 L802.67 390.88 L803.54 391.36 L804.42 391.85 L805.29 392.33 L806.16 392.82 L807.04 393.31 L807.91 393.80 L808.78 394.29 L809.65 394.78 L810.52 395.28 L811.39 395.77 L812.26 396.27 L813.13 396.77 L813.99 397.27 L814.86 397.77 L815.72 398.27 L816.59 398.78 L817.45 399.28 L818.31 399.79 L819.18 400.29 L820.04 400.80 L820.90 401.32 L821.76 401.83 L822.61 402.34 L823.47 402.86 L824.33 403.38 L825.18 403.90 L826.04 404.42 L826.89 404.94 L827.74 405.46 L828.59 405.99 L829.44 406.52 L830.29 407.05 L831.14 407.58 L831.99 408.11 L832.83 408.65 L833.68 409.19 L834.52 409.72 L835.36 410.27 L836.20 410.81 L837.04 411.35 L837.88 411.90 L838.72 412.45 L839.55 413.00 L840.39 413.56 L841.22 414.11 L842.05 414.67 L842.88 415.23 L843.71 415.79 L844.53 416.36 L845.36 416.92 L846.18 417.49 L847.00 418.07 L847.82 418.64 L848.64 419.22 L849.46 419.80 L850.27 420.38 L851.08 420.96 L851.89 421.55 L852.70 422.14 L853.51 422.73 L854.31 423.33 L855.12 423.93 L855.92 424.53 L856.72 425.13 L857.51 425.74 L858.31 426.35 L859.10 426.96 L859.89 427.58 L860.68 428.20 L861.46 428.82 L862.24 429.45 L863.02 430.07 L863.80 430.71 L864.57 431.34 L865.35 431.98 L866.12 432.62 L866.88 433.27 L867.65 433.92 L868.41 434.57 L869.16 435.22 L869.92 435.88 L870.67 436.55 L871.42 437.21 L872.16 437.88 L872.90 438.56 L873.64 439.24 L874.38 439.92 L875.11 440.60 L875.83 441.29 L876.56 441.99 L877.28 442.69 L877.99 443.39 L878.71 444.10 L879.41 444.81 L880.12 445.52 L880.82 446.24 L881.51 446.96 L882.20 447.69 L882.89 448.42 L883.57 449.16 L884.25 449.90 L884.92 450.64 L885.59 451.39 L886.25 452.15 L886.91 452.91 L887.56 453.67 L888.21 454.44 L888.85 455.21 L889.48 455.99 L890.11 456.77 L890.74 457.56 L891.36 458.35 L891.97 459.14 L892.58 459.94 L893.18 460.75 L893.78 461.56 L894.37 462.37 L894.95 463.19 L895.53 464.01 L896.10 464.84 L896.66 465.67 L897.22 466.51 L897.77 467.35 L898.31 468.20 L898.85 469.05 L899.38 469.91 L899.90 470.77 L900.42 471.63 L900.93 472.50 L901.43 473.37 L901.93 474.25 L902.42 475.13 L902.90 476.01 L903.37 476.90 L903.84 477.80 L904.30 478.69 L904.75 479.60 L905.19 480.50 L905.63 481.41 L906.06 482.32 L906.48 483.24 L906.89 484.16 L907.30 485.08 L907.70 486.01 L908.09 486.94 L908.48 487.87 L908.86 488.81 L909.09 489.40 L911.00 495.40 L913.00 502.00 L914.80 508.80 L916.90 516.10 L923.90 566.00" stroke="#0000ff" stroke-width="2.35" fill="none" stroke-linejoin="round" stroke-dasharray="3.1735 3.7685"/>
</svg></body></html>
